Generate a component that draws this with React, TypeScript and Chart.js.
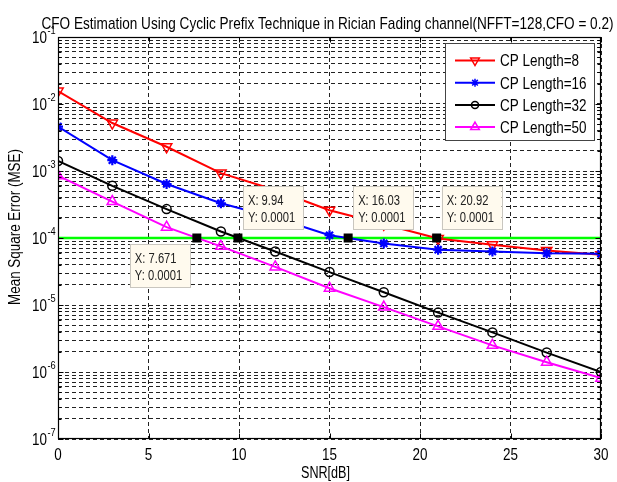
import React, { useEffect, useRef } from 'react';
import { Chart, registerables } from 'chart.js';

Chart.register(...registerables);

// SNR sweep and the measured CFO mean square error for each cyclic prefix length
const snrDb = [0, 3, 6, 9, 12, 15, 18, 21, 24, 27, 30];
const mseCp8 = [1.56e-2, 5.2e-3, 2.3e-3, 9.3e-4, 5.2e-4, 2.6e-4, 1.6e-4, 9.8e-5, 7.9e-5, 6.5e-5, 5.6e-5];
const mseCp16 = [4.6e-3, 1.45e-3, 6.4e-4, 3.3e-4, 2.0e-4, 1.1e-4, 8.3e-5, 6.7e-5, 6.3e-5, 5.9e-5, 5.8e-5];
const mseCp32 = [1.41e-3, 6.0e-4, 2.7e-4, 1.25e-4, 6.3e-5, 3.1e-5, 1.55e-5, 7.7e-6, 3.9e-6, 1.95e-6, 1.0e-6];
const mseCp50 = [8.5e-4, 3.5e-4, 1.45e-4, 7.5e-5, 3.7e-5, 1.78e-5, 9.3e-6, 4.8e-6, 2.5e-6, 1.4e-6, 8.1e-7];
const seriesLabels = ['CP Length=8', 'CP Length=16', 'CP Length=32', 'CP Length=50'];

// target MSE reference line and the points where each curve meets it
const targetMse = 1e-4;
const tipSnr = [7.671, 9.94, 16.03, 20.92];
const tipMse = [0.0001, 0.0001, 0.0001, 0.0001];

// axis ticks
const xTickValues = [0, 5, 10, 15, 20, 25, 30];
const yDecadeExponents = [-7, -6, -5, -4, -3, -2, -1];

const titleText = 'CFO Estimation Using Cyclic Prefix Technique in Rician Fading channel(NFFT=128,CFO = 0.2)';
const xAxisLabel = 'SNR[dB]';
const yAxisLabel = 'Mean Square Error (MSE)';

const FONT = '"Liberation Sans", Arial, Helvetica, sans-serif';
const seriesColors = ['#ff0000', '#0000ff', '#000000', '#ff00ff'];
const seriesMarkers = ['down', 'star', 'circle', 'up'];
const tipPlacement = ['below-left', 'above-right', 'above-right', 'above-right'];

// log grid: 1..9 x 10^e for every decade, plus the top decade
const yGridValues: number[] = [];
yDecadeExponents.slice(0, -1).forEach((e) => {
  for (let m = 1; m <= 9; m++) yGridValues.push(m * Math.pow(10, e));
});
yGridValues.push(Math.pow(10, yDecadeExponents[yDecadeExponents.length - 1]));

function drawText(
  ctx: CanvasRenderingContext2D,
  s: string,
  x: number,
  y: number,
  size: number,
  opts: { align?: 'left' | 'center' | 'right'; sx?: number; width?: number; color?: string } = {}
) {
  ctx.save();
  ctx.font = `${size}px ${FONT}`;
  const raw = ctx.measureText(s).width;
  const sx = opts.width ? opts.width / raw : opts.sx ?? 1;
  const w = raw * sx;
  const align = opts.align ?? 'left';
  const left = align === 'left' ? x : align === 'center' ? x - w / 2 : x - w;
  ctx.translate(left, y);
  ctx.scale(sx, 1);
  ctx.textAlign = 'left';
  ctx.textBaseline = 'alphabetic';
  ctx.fillStyle = opts.color ?? '#000';
  ctx.fillText(s, 0, 0);
  ctx.restore();
}

function drawMarker(ctx: CanvasRenderingContext2D, kind: string, x: number, y: number, r: number, color: string, lw: number) {
  ctx.save();
  ctx.strokeStyle = color;
  ctx.lineWidth = lw;
  ctx.beginPath();
  const s60 = Math.sin(Math.PI / 3);
  if (kind === 'down') {
    ctx.moveTo(x - r * s60, y - r / 2);
    ctx.lineTo(x + r * s60, y - r / 2);
    ctx.lineTo(x, y + r);
    ctx.closePath();
  } else if (kind === 'up') {
    ctx.moveTo(x, y - r);
    ctx.lineTo(x + r * s60, y + r / 2);
    ctx.lineTo(x - r * s60, y + r / 2);
    ctx.closePath();
  } else if (kind === 'circle') {
    ctx.arc(x, y, r, 0, Math.PI * 2);
  } else {
    const d = r * Math.SQRT1_2;
    ctx.moveTo(x - r, y); ctx.lineTo(x + r, y);
    ctx.moveTo(x, y - r); ctx.lineTo(x, y + r);
    ctx.moveTo(x - d, y - d); ctx.lineTo(x + d, y + d);
    ctx.moveTo(x - d, y + d); ctx.lineTo(x + d, y - d);
  }
  ctx.stroke();
  ctx.restore();
}

const matlabDecor = {
  id: 'matlabDecor',
  afterDatasetsDraw(chart: any) {
    const { ctx, chartArea: a, scales } = chart;
    const xs = scales.x;
    const ys = scales.y;

    // data tips on the reference line
    tipSnr.forEach((sv, i) => {
      const px = xs.getPixelForValue(sv);
      const py = ys.getPixelForValue(tipMse[i]);
      const bw = 60;
      const bh = 43;
      const left = tipPlacement[i] === 'below-left' ? px - 67 : px + 5;
      const top = tipPlacement[i] === 'below-left' ? py + 6 : py - 52;
      ctx.save();
      ctx.fillStyle = '#fffaee';
      ctx.fillRect(left, top, bw, bh);
      ctx.strokeStyle = '#c9c6bf';
      ctx.lineWidth = 1;
      ctx.strokeRect(Math.round(left) + 0.5, Math.round(top) + 0.5, bw, bh);
      ctx.restore();
      drawText(ctx, `X: ${sv}`, left + 5, top + 19, 14, { sx: 0.8, color: '#222' });
      drawText(ctx, `Y: ${tipMse[i]}`, left + 5, top + 36, 14, { sx: 0.8, color: '#222' });
      ctx.save();
      ctx.fillStyle = '#000';
      ctx.fillRect(px - 4.5, py - 4.5, 9, 9);
      ctx.restore();
    });

    // legend box in the upper-right corner of the axes
    const lw = 149;
    const lh = 97;
    const lx = a.right - 7 - lw;
    const ly = a.top + 6;
    ctx.save();
    ctx.fillStyle = '#fff';
    ctx.fillRect(lx, ly, lw, lh);
    ctx.strokeStyle = '#444';
    ctx.lineWidth = 1;
    ctx.strokeRect(Math.round(lx) + 0.5, Math.round(ly) + 0.5, lw, lh);
    ctx.restore();
    ctx.save();
    ctx.font = `16px ${FONT}`;
    const legendSx = 79 / ctx.measureText(seriesLabels[0]).width;
    ctx.restore();
    seriesLabels.forEach((label, i) => {
      const ry = ly + 17.5 + i * 22.2;
      ctx.save();
      ctx.strokeStyle = seriesColors[i];
      ctx.lineWidth = 2;
      ctx.beginPath();
      ctx.moveTo(lx + 10, ry);
      ctx.lineTo(lx + 50, ry);
      ctx.stroke();
      ctx.restore();
      const r = seriesMarkers[i] === 'circle' ? 3.5 : seriesMarkers[i] === 'star' ? 4 : 5;
      drawMarker(ctx, seriesMarkers[i], lx + 30, ry, r, seriesColors[i], 1.5);
      drawText(ctx, label, lx + 55, ry + 5.8, 16, { sx: legendSx });
    });
  },
  afterDraw(chart: any) {
    const { ctx, chartArea: a, scales } = chart;
    const xs = scales.x;
    const ys = scales.y;
    const L = Math.round(a.left) + 0.5;
    const R = Math.round(a.right) - 0.5;
    const T = Math.round(a.top) + 0.5;
    const B = Math.round(a.bottom) - 0.5;

    ctx.save();
    ctx.strokeStyle = '#000';
    ctx.lineWidth = 1;
    ctx.beginPath();
    // inward tick marks
    xTickValues.forEach((v) => {
      const px = Math.round(xs.getPixelForValue(v)) + 0.5;
      ctx.moveTo(px, B); ctx.lineTo(px, B - 5);
      ctx.moveTo(px, T); ctx.lineTo(px, T + 5);
    });
    yGridValues.forEach((v) => {
      const py = Math.round(ys.getPixelForValue(v)) + 0.5;
      const major = Math.abs(Math.log10(v) - Math.round(Math.log10(v))) < 1e-9;
      const len = major ? 5 : 3;
      ctx.moveTo(L, py); ctx.lineTo(L + len, py);
      ctx.moveTo(R, py); ctx.lineTo(R - len, py);
    });
    ctx.stroke();
    // axes box
    ctx.lineWidth = 1.2;
    ctx.strokeRect(L, T, R - L, B - T);
    ctx.restore();

    // x tick labels
    xTickValues.forEach((v) => {
      drawText(ctx, String(v), xs.getPixelForValue(v), a.bottom + 21, 16, { align: 'center', sx: 0.84 });
    });
    // y tick labels as powers of ten
    yDecadeExponents.forEach((e) => {
      const py = ys.getPixelForValue(Math.pow(10, e));
      drawText(ctx, '10', a.left - 11, py + 5.8, 16, { align: 'right', sx: 0.84 });
      drawText(ctx, String(e), a.left - 10.5, py - 3, 11, { sx: 0.84 });
    });

    // title and axis labels
    const cx = (a.left + a.right) / 2;
    drawText(ctx, titleText, cx - 2, 29, 17, { align: 'center', width: 572 });
    drawText(ctx, xAxisLabel, cx - 4, a.bottom + 39, 16, { align: 'center', width: 49 });
    ctx.save();
    ctx.translate(20, 227);
    ctx.rotate(-Math.PI / 2);
    drawText(ctx, yAxisLabel, 0, 0, 16, { align: 'center', width: 156 });
    ctx.restore();
  },
};

const mseSeries = [mseCp8, mseCp16, mseCp32, mseCp50];

export default function App() {
  const canvasRef = useRef<HTMLCanvasElement>(null);

  useEffect(() => {
    const canvas = canvasRef.current;
    if (!canvas) return;

    const datasets: any[] = mseSeries.map((vals, i) => ({
      label: seriesLabels[i],
      data: snrDb.map((x, k) => ({ x, y: vals[k] })),
      borderColor: seriesColors[i],
      borderWidth: 2,
      pointStyle: seriesMarkers[i] === 'circle' ? 'circle' : seriesMarkers[i] === 'star' ? 'star' : 'triangle',
      pointRotation: seriesMarkers[i] === 'down' ? 180 : 0,
      pointRadius: seriesMarkers[i] === 'circle' ? 4.5 : seriesMarkers[i] === 'star' ? 5 : 6,
      pointBorderWidth: seriesMarkers[i] === 'star' ? 2.2 : 1.5,
      pointBorderColor: seriesColors[i],
      pointBackgroundColor: 'rgba(0,0,0,0)',
      tension: 0,
      order: 4 - i,
    }));
    datasets.push({
      label: 'target',
      data: [
        { x: snrDb[0], y: targetMse },
        { x: snrDb[snrDb.length - 1], y: targetMse },
      ],
      borderColor: '#00ff00',
      borderWidth: 2.5,
      pointRadius: 0,
      order: 5,
    });

    const gridCommon = {
      display: true,
      drawTicks: false,
      color: '#222',
      lineWidth: 1,
    };

    const chart = new Chart(canvas, {
      type: 'line',
      data: { datasets },
      options: {
        animation: false,
        responsive: false,
        devicePixelRatio: 1,
        layout: { padding: { left: 58, top: 37, right: 16, bottom: 43 } },
        plugins: {
          legend: { display: false },
          title: { display: false },
          tooltip: { enabled: false },
        },
        scales: {
          x: {
            type: 'linear',
            position: 'bottom',
            min: 0,
            max: 30,
            ticks: { display: false, stepSize: 5 },
            grid: gridCommon,
            border: { display: false, dash: [4, 3] },
            afterFit: (s: any) => { s.height = 0; },
          },
          y: {
            type: 'logarithmic',
            position: 'left',
            min: 1e-7,
            max: 1e-1,
            ticks: { display: false },
            grid: gridCommon,
            border: { display: false, dash: [4, 3] },
            afterBuildTicks: (s: any) => { s.ticks = yGridValues.map((v) => ({ value: v })); },
            afterFit: (s: any) => { s.width = 0; },
          },
        },
      } as any,
      plugins: [matlabDecor],
    });

    return () => chart.destroy();
  }, []);

  return (
    <div style={{ position: 'fixed', left: 0, top: 0, width: 617, height: 482, background: '#fff' }}>
      <canvas ref={canvasRef} width={617} height={482} style={{ display: 'block', width: 617, height: 482 }} />
    </div>
  );
}
